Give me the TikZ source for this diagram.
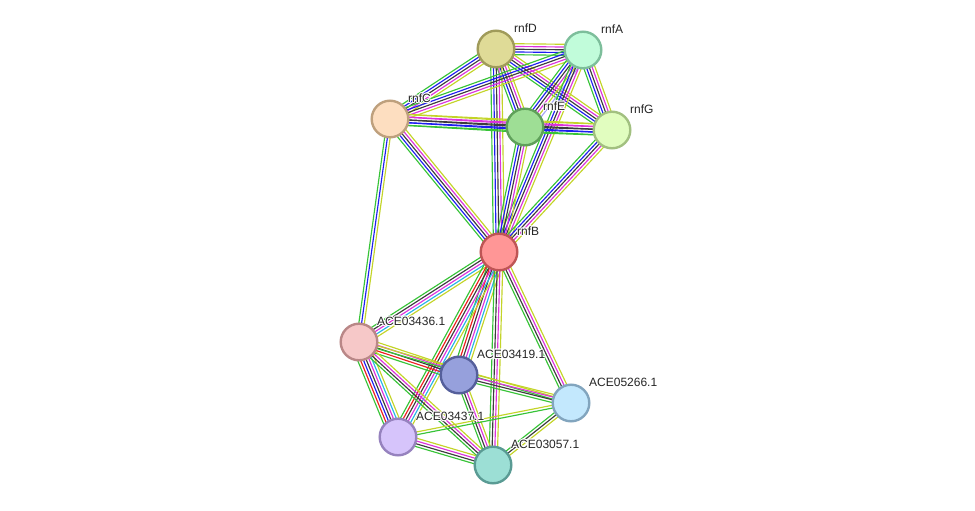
\documentclass[tikz,border=0pt]{standalone}
\usepackage{fontspec}
\setmainfont{Liberation Sans}
\usepackage{tikz}
\usetikzlibrary{calc,backgrounds}
\usepackage{xcolor}
% evidence channels
\definecolor{evgreen}{RGB}{55,195,55}
\definecolor{evred}{RGB}{235,30,30}
\definecolor{evblue}{RGB}{30,30,240}
\definecolor{evblack}{RGB}{60,60,60}
\definecolor{evmagenta}{RGB}{220,50,220}
\definecolor{evcyan}{RGB}{40,180,230}
\definecolor{evyellow}{RGB}{195,212,40}
\definecolor{evlav}{RGB}{165,165,245}
% one edge = parallel lines, one per channel
\newcommand{\evedge}[3]{%
  \foreach \c [count=\k] in {#3} {\xdef\nch{\k}}%
  \foreach \c [count=\k] in {#3} {%
    \pgfmathsetmacro{\off}{(\k-(\nch+1)/2)*2.75}%
    \draw[evline, \c] ($(#1)!\off pt!90:(#2)$) -- ($(#2)!\off pt!-90:(#1)$);
  }}
% white rim round the labels
\newcommand{\halo}[1]{\leavevmode
  \rlap{\color{white}\hspace{0.9pt}#1}\rlap{\color{white}\hspace{-0.9pt}#1}%
  \rlap{\color{white}\raisebox{0.9pt}{#1}}\rlap{\color{white}\raisebox{-0.9pt}{#1}}%
  \rlap{\color{white}\hspace{0.6pt}\raisebox{0.6pt}{#1}}\rlap{\color{white}\hspace{-0.6pt}\raisebox{-0.6pt}{#1}}%
  \rlap{\color{white}\hspace{0.6pt}\raisebox{-0.6pt}{#1}}\rlap{\color{white}\hspace{-0.6pt}\raisebox{0.6pt}{#1}}%
  #1}

\begin{document}
\begin{tikzpicture}[
  x=1pt, y=-1pt,
  prot/.style={circle, draw, line width=2.4pt, minimum size=36.6pt, inner sep=0pt},
  lbl/.style={anchor=base west, inner sep=0pt, text=black!85, font=\fontsize{12}{14}\selectfont},
  evline/.style={line width=1.15pt}
]
\useasboundingbox (0,0) rectangle (975,511);

\node[prot, fill={rgb,255:red,223;green,219;blue,151}, draw={rgb,255:red,160;green,155;blue,90}]   (rnfD)  at (496,49)  {};
\node[prot, fill={rgb,255:red,193;green,252;blue,218}, draw={rgb,255:red,125;green,190;blue,155}]  (rnfA)  at (583,50)  {};
\node[prot, fill={rgb,255:red,253;green,222;blue,192}, draw={rgb,255:red,190;green,160;blue,125}]  (rnfC)  at (390,119) {};
\node[prot, fill={rgb,255:red,158;green,222;blue,149}, draw={rgb,255:red,95;green,160;blue,90}]    (rnfE)  at (525,127) {};
\node[prot, fill={rgb,255:red,225;green,253;blue,191}, draw={rgb,255:red,162;green,192;blue,128}]  (rnfG)  at (612,130) {};
\node[prot, fill={rgb,255:red,255;green,150;blue,150}, draw={rgb,255:red,190;green,85;blue,85}]    (rnfB)  at (499,252) {};
\node[prot, fill={rgb,255:red,246;green,200;blue,200}, draw={rgb,255:red,185;green,135;blue,135}]  (a3436) at (359,342) {};
\node[prot, fill={rgb,255:red,150;green,160;blue,220}, draw={rgb,255:red,85;green,95;blue,155}]    (a3419) at (459,375) {};
\node[prot, fill={rgb,255:red,195;green,232;blue,253}, draw={rgb,255:red,130;green,165;blue,190}]  (a5266) at (571,403) {};
\node[prot, fill={rgb,255:red,214;green,196;blue,251}, draw={rgb,255:red,150;green,130;blue,190}]  (a3437) at (398,437) {};
\node[prot, fill={rgb,255:red,156;green,223;blue,213}, draw={rgb,255:red,90;green,155;blue,148}]   (a3057) at (493,465) {};

\node[lbl] (rnfD-l)  at ([shift={(18,-16.5)}]rnfD.center)  {\halo{rnfD}};
\node[lbl] (rnfA-l)  at ([shift={(18,-16.5)}]rnfA.center)  {\halo{rnfA}};
\node[lbl] (rnfC-l)  at ([shift={(18,-16.5)}]rnfC.center)  {\halo{rnfC}};
\node[lbl] (rnfE-l)  at ([shift={(18,-16.5)}]rnfE.center)  {\halo{rnfE}};
\node[lbl] (rnfG-l)  at ([shift={(18,-16.5)}]rnfG.center)  {\halo{rnfG}};
\node[lbl] (rnfB-l)  at ([shift={(18,-16.5)}]rnfB.center)  {\halo{rnfB}};
\node[lbl] (a3436-l) at ([shift={(18,-16.5)}]a3436.center) {\halo{ACE03436.1}};
\node[lbl] (a3419-l) at ([shift={(18,-16.5)}]a3419.center) {\halo{ACE03419.1}};
\node[lbl] (a5266-l) at ([shift={(18,-16.5)}]a5266.center) {\halo{ACE05266.1}};
\node[lbl] (a3437-l) at ([shift={(18,-16.5)}]a3437.center) {\halo{ACE03437.1}};
\node[lbl] (a3057-l) at ([shift={(18,-16.5)}]a3057.center) {\halo{ACE03057.1}};

\begin{scope}[on background layer]
  % rnf complex
  \evedge{rnfD}{rnfA}{evgreen,evblue,evblack,evmagenta,evyellow}
  \evedge{rnfD}{rnfC}{evgreen,evblue,evblack,evmagenta,evyellow}
  \evedge{rnfD}{rnfE}{evgreen,evblue,evblack,evmagenta,evyellow}
  \evedge{rnfD}{rnfG}{evgreen,evblue,evblack,evmagenta,evyellow}
  \evedge{rnfD}{rnfB}{evgreen,evblue,evblack,evmagenta,evyellow}
  \evedge{rnfA}{rnfC}{evgreen,evblue,evblack,evmagenta,evyellow}
  \evedge{rnfA}{rnfE}{evgreen,evblue,evblack,evmagenta,evyellow,evlav}
  \evedge{rnfA}{rnfG}{evgreen,evblue,evblack,evmagenta,evyellow}
  \evedge{rnfA}{rnfB}{evgreen,evblue,evblack,evmagenta,evyellow}
  \evedge{rnfC}{rnfE}{evgreen,evblue,evblack,evmagenta,evyellow}
  \evedge{rnfC}{rnfG}{evgreen,evblue,evblack,evmagenta,evyellow}
  \evedge{rnfC}{rnfB}{evgreen,evblue,evblack,evmagenta,evyellow}
  \evedge{rnfE}{rnfG}{evgreen,evblue,evblack,evmagenta,evyellow}
  \evedge{rnfE}{rnfB}{evgreen,evblue,evblack,evmagenta,evyellow}
  \evedge{rnfG}{rnfB}{evgreen,evblue,evblack,evmagenta,evyellow}
  % lower part
  \evedge{rnfC}{a3436}{evgreen,evblue,evyellow}
  \evedge{rnfB}{a3436}{evgreen,evblack,evmagenta,evcyan,evyellow}
  \evedge{rnfB}{a3419}{evgreen,evred,evblack,evmagenta,evcyan,evyellow}
  \evedge{rnfB}{a3437}{evgreen,evred,evblack,evmagenta,evcyan,evyellow}
  \evedge{rnfB}{a3057}{evgreen,evblack,evmagenta,evyellow}
  \evedge{rnfB}{a5266}{evgreen,evblack,evmagenta,evyellow}
  \evedge{a3436}{a3419}{evgreen,evred,evblack,evmagenta,evyellow}
  \evedge{a3436}{a5266}{evgreen,evyellow}
  \evedge{a3436}{a3437}{evgreen,evred,evblue,evblack,evmagenta,evcyan,evyellow}
  \evedge{a3436}{a3057}{evgreen,evblack,evmagenta,evyellow}
  \evedge{a3419}{a5266}{evgreen,evblack,evmagenta,evyellow}
  \evedge{a3419}{a3057}{evgreen,evblack,evmagenta,evyellow}
  \evedge{a3437}{a5266}{evgreen,evyellow}
  \evedge{a3437}{a3057}{evgreen,evblack,evmagenta,evyellow}
  \evedge{a5266}{a3057}{evgreen,evblack,evyellow}
\end{scope}
\end{tikzpicture}
\end{document}
